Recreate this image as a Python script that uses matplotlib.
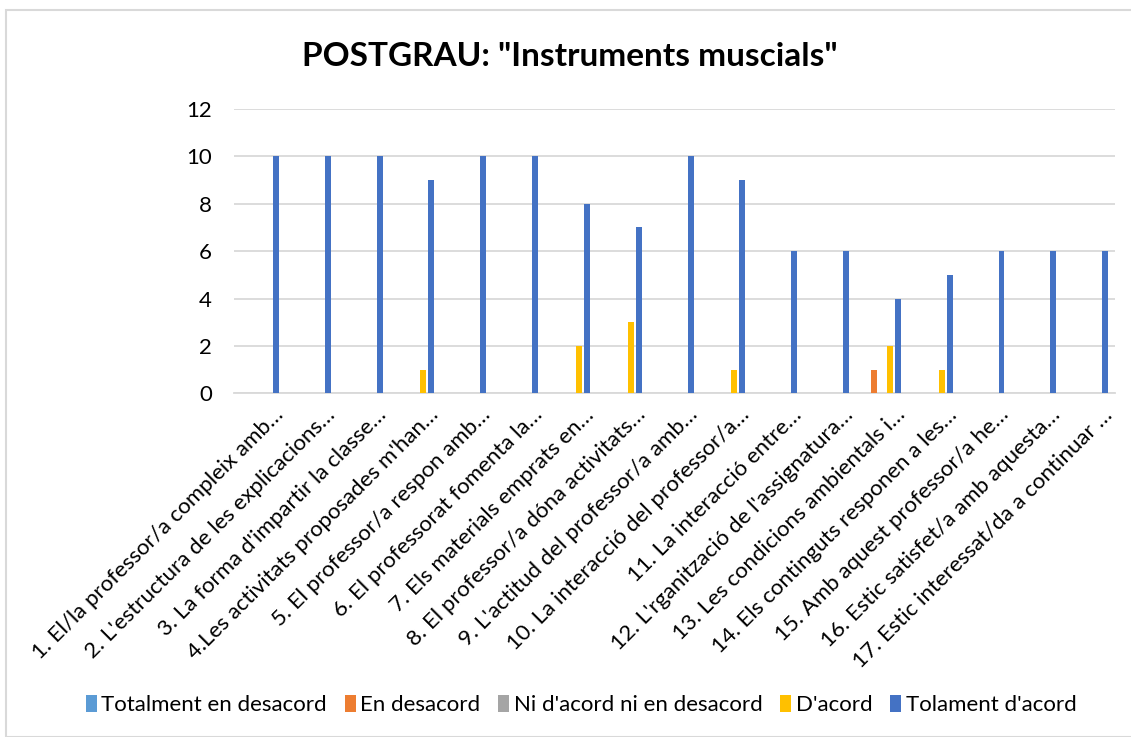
import matplotlib
matplotlib.use("Agg")
import matplotlib.pyplot as plt
from matplotlib.patches import Rectangle
import numpy as np

plt.rcParams['font.family'] = ['Lato', 'DejaVu Sans']

# survey questions (truncated as in the source chart)
questions = [
    "1. El/la professor/a compleix amb…",
    "2. L'estructura de les explicacions…",
    "3. La forma d'impartir la classe…",
    "4.Les activitats proposades m'han…",
    "5. El professor/a respon amb…",
    "6. El professorat fomenta la…",
    "7. Els materials emprats en…",
    "8. El professor/a dóna activitats…",
    "9. L'actitud del professor/a amb…",
    "10. La interacció del professor/a…",
    "11. La interacció entre…",
    "12. L'rganització de l'assignatura…",
    "13. Les condicions ambientals i…",
    "14. Els continguts responen a les…",
    "15. Amb aquest professor/a he…",
    "16. Estic satisfet/a amb aquesta…",
    "17. Estic interessat/da a continuar …",
]

series_names = ["Totalment en desacord", "En desacord", "Ni d'acord ni en desacord",
                "D'acord", "Tolament d'acord"]
totalment_desacord = [0, 0, 0, 0, 0, 0, 0, 0, 0, 0, 0, 0, 0, 0, 0, 0, 0]
en_desacord = [0, 0, 0, 0, 0, 0, 0, 0, 0, 0, 0, 0, 1, 0, 0, 0, 0]
ni_acord = [0, 0, 0, 0, 0, 0, 0, 0, 0, 0, 0, 0, 0, 0, 0, 0, 0]
d_acord = [0, 0, 0, 1, 0, 0, 2, 3, 0, 1, 0, 0, 2, 1, 0, 0, 0]
tolament_acord = [10, 10, 10, 9, 10, 10, 8, 7, 10, 9, 6, 6, 4, 5, 6, 6, 6]

colors = ['#5B9BD5', '#ED7D31', '#A5A5A5', '#FFC000', '#4472C4']

W, H = 1131, 737
fig = plt.figure(figsize=(W / 100, H / 100), dpi=100)
ax = fig.add_axes([234 / W, 1 - 393.5 / H, (1115 - 234) / W, (393.5 - 108.6) / H])

x = np.arange(len(questions))
slot = 0.155
bar_w = 0.115
all_series = [totalment_desacord, en_desacord, ni_acord, d_acord, tolament_acord]
for i, (vals, name, c) in enumerate(zip(all_series, series_names, colors)):
    ax.bar(x + (i - 2) * slot, vals, width=bar_w, color=c, label=name, zorder=3)

ax.set_xlim(-0.5, len(questions) - 0.5)
ax.set_ylim(0, 12)
ax.set_yticks(range(0, 13, 2))
ax.yaxis.grid(True, color='#D9D9D9', linewidth=1.3, zorder=0)
for s in ['top', 'right', 'left']:
    ax.spines[s].set_visible(False)
ax.spines['bottom'].set_color('#D9D9D9')
ax.spines['bottom'].set_linewidth(1.3)
ax.tick_params(axis='both', length=0, labelsize=16, colors='black')
ax.tick_params(axis='y', pad=16)

ax.set_xticks(x + 0.25)
ax.set_xticklabels(questions, rotation=45, ha='right', va='top',
                   rotation_mode='anchor', fontsize=16)
ax.tick_params(axis='x', pad=8)

fig.text(570 / W, 1 - 57 / H, 'POSTGRAU: "Instruments muscials"',
         ha='center', va='center', fontsize=24, fontweight='bold')

fig.legend(loc='center', bbox_to_anchor=(581 / W, 1 - 705 / H), ncol=5,
           frameon=False, fontsize=16, handlelength=0.5, handleheight=0.85,
           handletextpad=0.2, columnspacing=0.8)

# light outer frame like the spreadsheet chart area
fig.patches.append(Rectangle((6 / W, 0), 1.0, 1 - 10 / H, transform=fig.transFigure,
                             fill=False, edgecolor='#D9D9D9', linewidth=1.5))

fig.savefig('out.png', dpi=100)
